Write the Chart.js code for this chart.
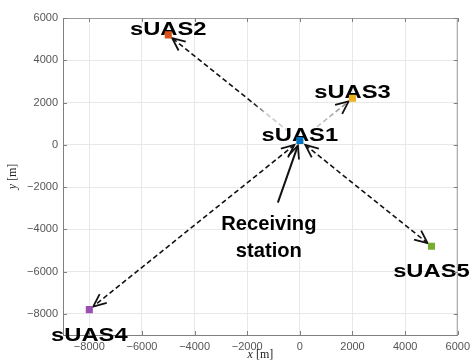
<!DOCTYPE html>
<html>
<head>
<meta charset="utf-8">
<script src="https://cdn.jsdelivr.net/npm/chart.js@4/dist/chart.umd.min.js"></script>
<style>
  html, body { margin: 0; padding: 0; background: #fff; }
  #wrap { width: 475px; height: 361px; }
</style>
</head>
<body>
<div id="wrap"><canvas id="chart"></canvas></div>
<script>
    var names = ['sUAS1', 'sUAS2', 'sUAS3', 'sUAS4', 'sUAS5'];
    var xs = [0, -5000, 2000, -8000, 5000];
    var ys = [200, 5200, 2200, -7800, -4800];
    var colors = ['#0072BD', '#D95319', '#EDB120', '#9B4FB0', '#77AC30'];
    var xTicks = [-8000, -6000, -4000, -2000, 0, 2000, 4000, 6000];
    var yTicks = [-8000, -6000, -4000, -2000, 0, 2000, 4000, 6000];
    var links = [1, 2, 3, 4];          // receiving station -> each sUAS
    var twoWay = [false, false, true, true];
    var stationText = ['Receiving', 'station'];

    var points = xs.map(function (x, i) { return { x: x, y: ys[i] }; });

    function fmt(v) {
        return v < 0 ? '\u2212' + Math.abs(v) : String(v);
    }

    function head(ctx, fx, fy, tx, ty) {
        var a = Math.atan2(ty - fy, tx - fx);
        var len = 14, spread = 0.42;
        ctx.save();
        ctx.setLineDash([]);
        ctx.strokeStyle = '#111';
        ctx.lineWidth = 1.8;
        ctx.beginPath();
        ctx.moveTo(tx - len * Math.cos(a - spread), ty - len * Math.sin(a - spread));
        ctx.lineTo(tx, ty);
        ctx.lineTo(tx - len * Math.cos(a + spread), ty - len * Math.sin(a + spread));
        ctx.stroke();
        ctx.restore();
    }

    var overlay = {
        id: 'overlay',
        beforeDatasetsDraw: function (chart) {
            var ctx = chart.ctx;
            var sx = chart.scales.x, sy = chart.scales.y;
            var px = function (i) { return sx.getPixelForValue(xs[i]); };
            var py = function (i) { return sy.getPixelForValue(ys[i]); };
            var cx = px(0), cy = py(0);

            // dashed links
            links.forEach(function (t, k) {
                var tx = px(t), ty = py(t);
                var dx = tx - cx, dy = ty - cy, d = Math.sqrt(dx * dx + dy * dy);
                var ux = dx / d, uy = dy / d;
                var g0 = twoWay[k] ? 7 : 14;
                var x0 = cx + ux * g0, y0 = cy + uy * g0;
                var x1 = tx - ux * 5, y1 = ty - uy * 5;
                var grad = ctx.createLinearGradient(x0, y0, x1, y1);
                if (k === 0) {
                    grad.addColorStop(0, '#d0d0d0');
                    grad.addColorStop(0.2, '#c8c8c8');
                    grad.addColorStop(0.3, '#111');
                    grad.addColorStop(1, '#111');
                } else if (k === 1) {
                    grad.addColorStop(0, '#d8d8d8');
                    grad.addColorStop(1, '#888');
                } else {
                    grad.addColorStop(0, '#111');
                    grad.addColorStop(1, '#111');
                }
                ctx.save();
                ctx.strokeStyle = grad;
                ctx.lineWidth = 1.6;
                ctx.setLineDash([5, 3]);
                ctx.beginPath();
                ctx.moveTo(x0, y0);
                ctx.lineTo(x1, y1);
                ctx.stroke();
                ctx.restore();
                head(ctx, x0, y0, x1, y1);
                if (twoWay[k]) head(ctx, x1, y1, x0, y0);
            });

            // station pointer
            ctx.save();
            ctx.strokeStyle = '#111';
            ctx.lineWidth = 2;
            ctx.beginPath();
            ctx.moveTo(cx - 22, cy + 62);
            ctx.lineTo(cx - 2, cy + 5);
            ctx.stroke();
            ctx.restore();
            head(ctx, cx - 22, cy + 62, cx - 2, cy + 5);

            // labels
            ctx.save();
            ctx.fillStyle = '#000';
            ctx.textAlign = 'center';
            ctx.textBaseline = 'alphabetic';
            ctx.font = 'bold 19px "Liberation Sans", Arial, sans-serif';
            names.forEach(function (n, i) {
                var below = i >= 3;
                ctx.save();
                ctx.translate(px(i), py(i) + (below ? 31 : 0));
                ctx.scale(1.25, 1);
                ctx.fillText(n, 0, 0);
                ctx.restore();
            });
            ctx.font = 'bold 21px "Liberation Sans", Arial, sans-serif';
            stationText.forEach(function (s, j) {
                ctx.save();
                ctx.translate(cx - 31, cy + 89 + j * 27);
                ctx.scale(0.96, 1);
                ctx.fillText(s, 0, 0);
                ctx.restore();
            });
            ctx.restore();
        },
        afterDraw: function (chart) {
            var ctx = chart.ctx, a = chart.chartArea;
            var sx = chart.scales.x, sy = chart.scales.y;
            ctx.save();
            ctx.strokeStyle = '#9a9a9a';
            ctx.lineWidth = 1;
            ctx.beginPath();
            ctx.moveTo(a.left, a.top + 0.5);
            ctx.lineTo(a.right - 0.5, a.top + 0.5);
            ctx.lineTo(a.right - 0.5, a.bottom);
            ctx.stroke();
            // inner ticks
            ctx.strokeStyle = '#808080';
            ctx.beginPath();
            xTicks.forEach(function (v) {
                var x = Math.round(sx.getPixelForValue(v)) + 0.5;
                ctx.moveTo(x, a.bottom); ctx.lineTo(x, a.bottom - 4);
                ctx.moveTo(x, a.top); ctx.lineTo(x, a.top + 4);
            });
            yTicks.forEach(function (v) {
                var y = Math.round(sy.getPixelForValue(v)) + 0.5;
                ctx.moveTo(a.left, y); ctx.lineTo(a.left + 4, y);
                ctx.moveTo(a.right, y); ctx.lineTo(a.right - 4, y);
            });
            ctx.stroke();

            // axis titles
            ctx.fillStyle = '#222';
            ctx.textBaseline = 'alphabetic';
            var it = 'italic 12px "Liberation Serif", "Times New Roman", serif';
            var up = '12px "Liberation Serif", "Times New Roman", serif';
            function mixed(varName, ox, oy) {
                ctx.font = it;
                var w1 = ctx.measureText(varName).width;
                ctx.font = up;
                var w2 = ctx.measureText(' [m]').width;
                var s = ox - (w1 + w2) / 2;
                ctx.textAlign = 'left';
                ctx.font = it;
                ctx.fillText(varName, s, oy);
                ctx.font = up;
                ctx.fillText(' [m]', s + w1, oy);
            }
            mixed('x', (a.left + a.right) / 2, 358);
            ctx.save();
            ctx.translate(16, (a.top + a.bottom) / 2);
            ctx.rotate(-Math.PI / 2);
            mixed('y', 0, 0);
            ctx.restore();
            ctx.restore();
        }
    };

    var tickFont = { family: '"Liberation Sans", Arial, sans-serif', size: 11 };

    new Chart(document.getElementById('chart'), {
        type: 'scatter',
        data: {
            datasets: [{
                data: points,
                pointStyle: 'rect',
                pointRadius: 5,
                pointHoverRadius: 5,
                pointBorderWidth: 0,
                pointBackgroundColor: colors,
                pointBorderColor: colors
            }]
        },
        options: {
            responsive: true,
            maintainAspectRatio: false,
            animation: false,
            layout: { padding: { top: 18, right: 14, left: 0, bottom: 0 } },
            plugins: { legend: { display: false }, tooltip: { enabled: false } },
            scales: {
                x: {
                    type: 'linear',
                    min: -9000,
                    max: 6000,
                    afterBuildTicks: function (s) { s.ticks = xTicks.map(function (v) { return { value: v }; }); },
                    afterFit: function (s) { s.height = 26; },
                    grid: { color: '#e8e8e8', drawTicks: false },
                    border: { display: true, color: '#808080' },
                    ticks: { padding: 5, color: '#555', font: tickFont, maxRotation: 0, callback: fmt }
                },
                y: {
                    type: 'linear',
                    min: -9000,
                    max: 6000,
                    afterBuildTicks: function (s) { s.ticks = yTicks.map(function (v) { return { value: v }; }); },
                    afterFit: function (s) { s.width = 63; },
                    grid: { color: '#e8e8e8', drawTicks: false },
                    border: { display: true, color: '#808080' },
                    ticks: { padding: 5, color: '#555', font: tickFont, callback: fmt }
                }
            }
        },
        plugins: [overlay]
    });
</script>
</body>
</html>
